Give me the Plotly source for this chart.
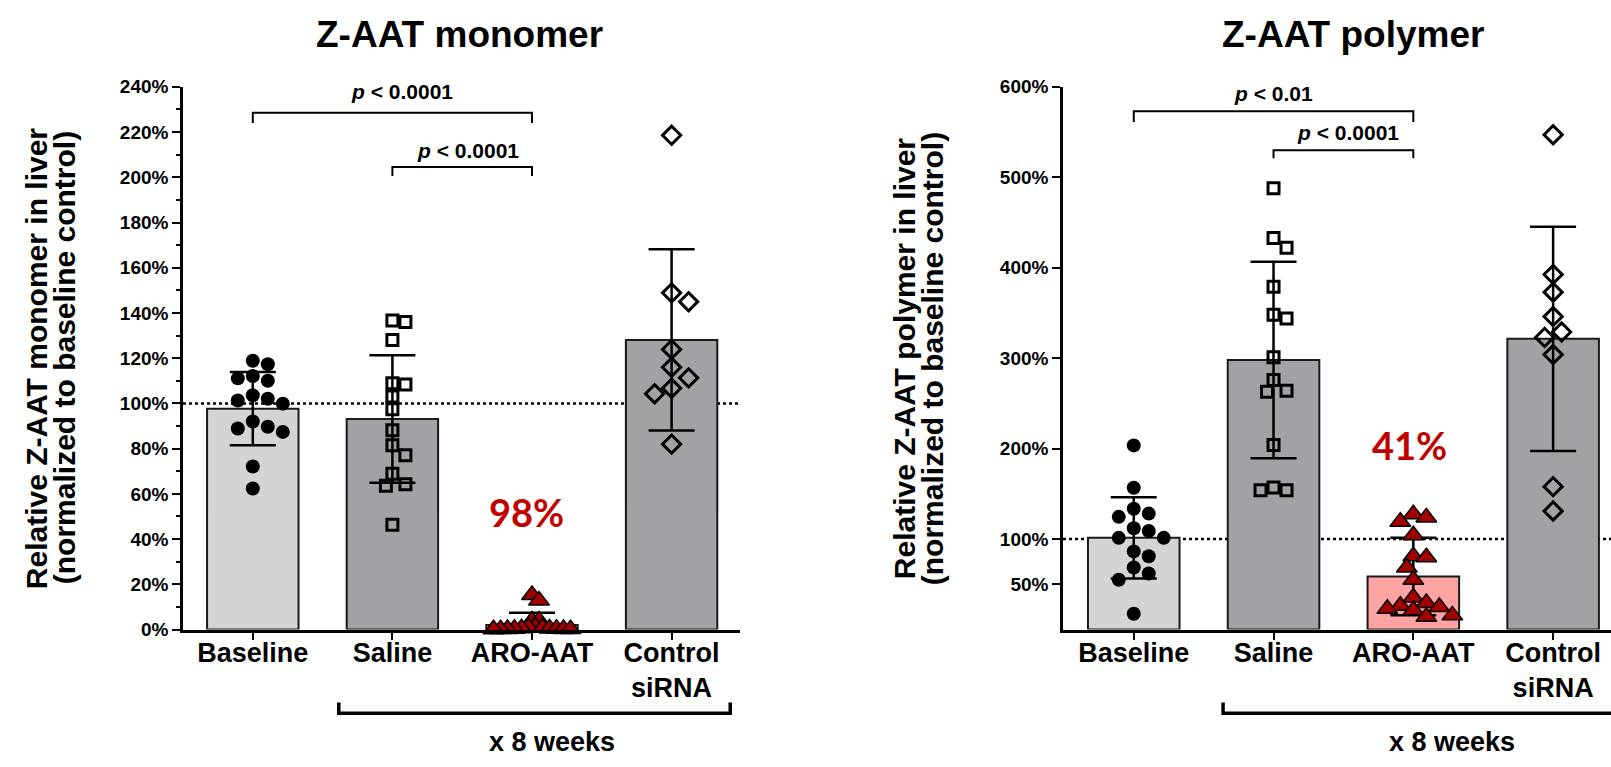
import plotly.graph_objects as go

# ---------------- data ----------------
categories = ["Baseline", "Saline", "ARO-AAT", "Control<br>siRNA"]

mono_baseline = [118.9, 117.3, 112.1, 111.1, 110.0, 103.6, 102.1, 101.3, 99.9, 92.0, 89.7, 88.9, 87.4, 72.1, 62.4]
mono_saline = [136.7, 136.0, 128.1, 108.9, 108.4, 103.1, 97.4, 88.1, 81.5, 77.1, 68.9, 64.3, 63.6, 46.4]
mono_aro = [15.3, 12.9, 4.0, 4.0, 1.2, 1.0, 0.8, 0.6, 0.5, 0.4, 0.4, 0.3, 0.3, 0.2, 0.2, 0.1]
mono_control = [218.6, 148.9, 145.0, 123.9, 116.0, 111.3, 106.7, 104.3, 82.0]
mono_means = [97.7, 93.1, 2.0, 128.1]
mono_sd = [16.2, 28.2, 5.4, 40.1]

poly_baseline = [203.6, 156.8, 133.6, 128.2, 124.6, 112.0, 109.0, 101.4, 101.4, 86.4, 81.0, 68.6, 62.0, 55.0, 17.5]
poly_saline = [488, 433, 422, 379, 348, 344, 301, 276, 264, 263, 204, 157, 154, 154]
poly_aro = [127.5, 124.0, 119.3, 104.3, 81.0, 80.0, 68.6, 55.0, 35.4, 29.3, 26.4, 25.0, 22.9, 21.4, 15.7, 14.3]
poly_control = [547, 392.5, 373, 346, 329, 323, 304, 158, 131]
poly_means = [101.4, 298.0, 58.6, 321.4]
poly_sd = [45.0, 108.6, 42.8, 124.0]

mono_ticks = list(range(0, 241, 20))
poly_ticks = [50, 100, 200, 300, 400, 500, 600]

mono_reduction = "98%"
poly_reduction = "41%"
mono_pvals = ["p < 0.0001", "p < 0.0001"]
poly_pvals = ["p < 0.01", "p < 0.0001"]

# ---------------- layout helpers ----------------
W, H = 1611, 767
FONT = "Liberation Sans, Arial, sans-serif"
BAR_COLORS = ["#d4d4d4", "#a2a2a6", "#ffa3a3", "#a2a2a6"]
RED = "#c00000"

y_bottom_px, y_top_px = 637, 79
ydom = [1 - y_bottom_px / H, 1 - y_top_px / H]
xdom1 = [183 / W, 740 / W]
xdom2 = [1063 / W, 1.0]
xr1 = [-0.50, 3.49]
xr2 = [-0.506, 3.414]
yr1 = [0, 240]
yr2 = [0, 600]

px_per_cat1 = (xdom1[1] - xdom1[0]) * W / (xr1[1] - xr1[0])
px_per_cat2 = (xdom2[1] - xdom2[0]) * W / (xr2[1] - xr2[0])
px_per_y1 = (y_bottom_px - y_top_px) / (yr1[1] - yr1[0])
px_per_y2 = (y_bottom_px - y_top_px) / (yr2[1] - yr2[0])


def swarm(values, ppy, ppc, min_dist, step):
    """Greedy beeswarm: horizontal offsets (category units) avoiding overlaps."""
    placed = []
    offs = []
    cands = [0]
    for i in range(1, 60):
        cands += [i, -i]
    for v in values:
        y = v * ppy
        chosen = 0
        for c in cands:
            x = c * step
            if all((x - px) ** 2 + (y - py) ** 2 >= min_dist ** 2 for px, py in placed):
                chosen = x
                break
        placed.append((chosen, y))
        offs.append(chosen / ppc)
    return offs


fig = go.Figure()


def add_panel(xa, ya, means, sds, groups, ppy, ppc, tri_dist):
    fig.add_trace(go.Bar(
        x=list(range(len(means))), y=means, width=0.655,
        marker=dict(color=BAR_COLORS, line=dict(color="#1a1a1a", width=2)),
        error_y=dict(type="data", array=sds, visible=True, color="black", thickness=2.5, width=23),
        xaxis=xa, yaxis=ya, hoverinfo="skip"))
    styles = [
        dict(symbol="circle", size=14, color="black", line=dict(color="black", width=0), md=15, st=7.5),
        dict(symbol="square-open", size=11, color="black", line=dict(color="black", width=3), md=13, st=6.5),
        dict(symbol="triangle-up", size=18, color="#a00000", line=dict(color="black", width=1.5), md=tri_dist, st=tri_dist / 2),
        dict(symbol="diamond-open", size=14, color="black", line=dict(color="black", width=3), md=17, st=8.5),
    ]
    for i, (vals, st) in enumerate(zip(groups, styles)):
        offs = swarm(vals, ppy, ppc, st["md"], st["st"])
        fig.add_trace(go.Scatter(
            x=[i + o for o in offs], y=vals, mode="markers",
            marker=dict(symbol=st["symbol"], size=st["size"], color=st["color"], line=st["line"]),
            xaxis=xa, yaxis=ya, hoverinfo="skip", cliponaxis=False))


add_panel("x", "y", mono_means, mono_sd, [mono_baseline, mono_saline, mono_aro, mono_control],
          px_per_y1, px_per_cat1, 7)
add_panel("x2", "y2", poly_means, poly_sd, [poly_baseline, poly_saline, poly_aro, poly_control],
          px_per_y2, px_per_cat2, 13)

axis_common = dict(showline=True, linecolor="black", linewidth=2.5, ticks="outside", ticklen=8,
                   tickwidth=2, tickcolor="black", showgrid=False, zeroline=False, fixedrange=True)

fig.update_layout(
    width=W, height=H, margin=dict(l=0, r=0, t=0, b=0),
    paper_bgcolor="white", plot_bgcolor="white", showlegend=False,
    font=dict(family=FONT, color="black"),
    xaxis=dict(domain=xdom1, range=xr1, tickvals=list(range(4)), ticktext=categories,
               tickfont=dict(size=27, weight="bold"), anchor="y", ticklabelstandoff=-11, **axis_common),
    yaxis=dict(domain=ydom, range=yr1, tickvals=mono_ticks, ticktext=[f"{t}%" for t in mono_ticks],
               tickfont=dict(size=19, weight="bold"), anchor="x",
               minor=dict(dtick=10, ticks="outside", ticklen=4, tickwidth=2, tickcolor="black"),
               **axis_common),
    xaxis2=dict(domain=xdom2, range=xr2, tickvals=list(range(4)), ticktext=categories,
                tickfont=dict(size=27, weight="bold"), anchor="y2", ticklabelstandoff=-11, **axis_common),
    yaxis2=dict(domain=ydom, range=yr2, tickvals=poly_ticks, ticktext=[f"{t}%" for t in poly_ticks],
                tickfont=dict(size=19, weight="bold"), anchor="x2", **axis_common),
)

shapes = []
annotations = []
# dotted 100 % reference lines
shapes.append(dict(type="line", xref="x", yref="y", x0=xr1[0], x1=xr1[1], y0=100, y1=100,
                   line=dict(color="black", width=2.5, dash="dot"), layer="below"))
shapes.append(dict(type="line", xref="x2", yref="y2", x0=xr2[0], x1=xr2[1], y0=100, y1=100,
                   line=dict(color="black", width=2.5, dash="dot"), layer="below"))


def ptext(s):
    rest = s[1:].replace("<", "&lt;")
    return f"<b><i>{s[0]}</i>{rest}</b>"


def bracket(xref, yref, xa, xb, ytop, ylow, text, ytext, dx):
    shapes.append(dict(type="path", xref=xref, yref=yref,
                       path=f"M {xa},{ylow} L {xa},{ytop} L {xb},{ytop} L {xb},{ylow}",
                       line=dict(color="black", width=2)))
    annotations.append(dict(xref=xref, yref=yref, x=(xa + xb) / 2 + dx, y=ytext, text=ptext(text),
                            showarrow=False, font=dict(size=21, family=FONT), xanchor="center", yanchor="middle"))


bracket("x", "y", 0, 2, 228.5, 224, mono_pvals[0], 237.8, 0.07)
bracket("x", "y", 1, 2, 204.6, 200.6, mono_pvals[1], 212.0, 0.04)
bracket("x2", "y2", 0, 2, 573, 561, poly_pvals[0], 593, 0.0)
bracket("x2", "y2", 1, 2, 530, 521, poly_pvals[1], 549, 0.035)

# "x 8 weeks" brackets below the axes
yb, yu = 1 - 723 / H, 1 - 712 / H
shapes.append(dict(type="path", xref="x", yref="paper",
                   path=f"M 0.616,{yu} L 0.616,{yb} L 3.42,{yb} L 3.42,{yu}",
                   line=dict(color="black", width=3.5)))
shapes.append(dict(type="path", xref="x2", yref="paper",
                   path=f"M 0.639,{yu} L 0.639,{yb} L 3.414,{yb}",
                   line=dict(color="black", width=3.5)))
for xc in (552, 1452):
    annotations.append(dict(xref="paper", yref="paper", x=xc / W, y=1 - 753 / H, text="<b>x 8 weeks</b>",
                            showarrow=False, font=dict(size=27, family=FONT), xanchor="center", yanchor="middle"))

# titles
annotations.append(dict(xref="paper", yref="paper", x=460 / W, y=1 - 25 / H, text="<b>Z-AAT monomer</b>",
                        showarrow=False, font=dict(size=37, family=FONT), xanchor="center", yanchor="middle"))
annotations.append(dict(xref="paper", yref="paper", x=1353 / W, y=1 - 25 / H, text="<b>Z-AAT polymer</b>",
                        showarrow=False, font=dict(size=37, family=FONT), xanchor="center", yanchor="middle"))

# y-axis titles (one annotation per line for tight line spacing)
ytitles = [
    (36, "Relative Z-AAT monomer in liver"), (64, "(normalized to baseline control)"),
    (904, "Relative Z-AAT polymer in liver"), (932, "(normalized to baseline control)"),
]
for xc, txt in ytitles:
    annotations.append(dict(xref="paper", yref="paper", x=xc / W, y=1 - 358 / H, textangle=-90,
                            text=f"<b>{txt}</b>", showarrow=False, font=dict(size=30, family=FONT),
                            xanchor="center", yanchor="middle"))

# reduction labels
annotations.append(dict(xref="x", yref="y", x=1.96, y=(y_bottom_px - 516) / px_per_y1, text=f"<b>{mono_reduction}</b>",
                        showarrow=False, font=dict(size=38, family="Lato, Noto Sans, sans-serif", color=RED),
                        xanchor="center", yanchor="middle"))
annotations.append(dict(xref="x2", yref="y2", x=1.97, y=(y_bottom_px - 447) / px_per_y2, text=f"<b>{poly_reduction}</b>",
                        showarrow=False, font=dict(size=38, family="Lato, Noto Sans, sans-serif", color=RED),
                        xanchor="center", yanchor="middle"))

fig.update_layout(shapes=shapes, annotations=annotations)

post = (
    "document.documentElement.style.margin='0';"
    "document.body.style.margin='0';document.body.style.overflow='hidden';"
)
fig.write_html("out.html", config={"displayModeBar": False}, post_script=post)
